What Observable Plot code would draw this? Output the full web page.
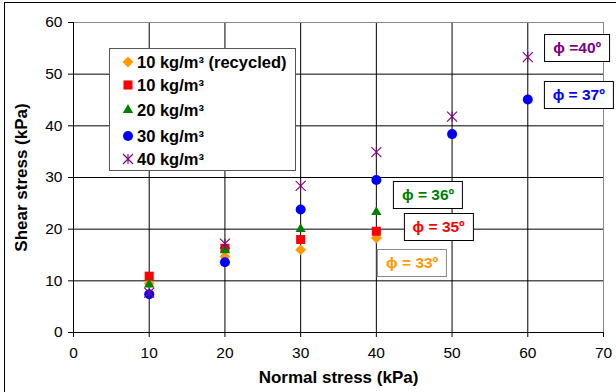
<!DOCTYPE html>
<html>
<head>
<meta charset="utf-8">
<script src="https://cdn.jsdelivr.net/npm/d3@7"></script>
<script src="https://cdn.jsdelivr.net/npm/@observablehq/plot@0.6"></script>
<style>
  body { margin: 0; background: #fff; font-family: "Liberation Sans", Arial, sans-serif; }
  #wrap { position: relative; width: 616px; height: 392px; overflow: hidden; }
  #outer { position: absolute; left: 4px; top: 2px; width: 700px; height: 500px; border: 1px solid #000; box-sizing: border-box; pointer-events: none; }
  svg [aria-label="x-axis label"] text, svg [aria-label="y-axis label"] text { font-weight: bold; font-size: 17px; }
  .legend { position: absolute; left: 109px; top: 48px; width: 187px; height: 123px; border: 1px solid #555; background: #fff; box-sizing: border-box; }
  .legend .row { position: absolute; left: 10px; height: 20px; display: flex; align-items: center; font-weight: bold; font-size: 16.5px; color: #000; white-space: nowrap; }
  .legend .row svg { margin-right: 1px; }
  .ann { position: absolute; transform: translate(-50%, -50%); background: #fff; border: 1px solid #000; font-weight: bold; font-size: 15.5px; padding: 4px 8px; white-space: nowrap; }
</style>
</head>
<body>
<div id="wrap"><div id="outer"></div></div>
<script>
// ---- data ----
const normalStress = [10, 20, 30, 40, 50, 60];
const seriesNames = ["10 kg/m³ (recycled)", "10 kg/m³", "20 kg/m³", "30 kg/m³", "40 kg/m³"];
const recycled10 = [9.5, 14.7, 16.0, 18.3];
const fiber10 = [10.9, 16.3, 18.0, 19.6];
const fiber20 = [9.3, 15.9, 20.0, 23.3];
const fiber30 = [7.4, 13.6, 23.8, 29.5, 38.4, 45.1];
const fiber40 = [7.7, 17.2, 28.4, 34.9, 41.8, 53.3];
const seriesColors = ["#FF9900", "#FF0000", "#008000", "#0000FF", "#800080"];
const xTicks = [0, 10, 20, 30, 40, 50, 60, 70];
const yTicks = [0, 10, 20, 30, 40, 50, 60];
// friction angle annotations (anchor in data coordinates)
const annLabels = ["ϕ =40º", "ϕ = 37º", "ϕ = 36º", "ϕ = 35º", "ϕ = 33º"];
const annColors = ["#800080", "#0000FF", "#008000", "#FF0000", "#FF9900"];
const annX = [66.6, 66.8, 46.9, 48.3, 44.8];
const annY = [55.0, 45.9, 26.5, 20.3, 13.3];

// ---- symbols ----
const starSymbol = {
  draw(ctx, size) {
    const r = Math.sqrt(size / Math.PI);
    ctx.moveTo(-r, -r); ctx.lineTo(r, r);
    ctx.moveTo(r, -r); ctx.lineTo(-r, r);
    ctx.moveTo(0, -r); ctx.lineTo(0, r);
  }
};
const symbols = ["diamond2", "square", "triangle", "circle", starSymbol];
const d3Symbols = [d3.symbolDiamond2, d3.symbolSquare, d3.symbolTriangle, d3.symbolCircle, starSymbol];
const symR = [4.9, 5.1, 3.8, 5, 5];

const allSeries = [recycled10, fiber10, fiber20, fiber30, fiber40];
const rows = allSeries.map((vals, s) => vals.map((v, i) => ({x: normalStress[i], y: v, s})));

const dotMarks = rows.map((data, s) => {
  const isStar = s === 4;
  return Plot.dot(data, {
    x: "x", y: "y", symbol: () => symbols[s], r: symR[s],
    fill: isStar ? "none" : seriesColors[s],
    stroke: isStar ? seriesColors[s] : "none",
    strokeWidth: 1.1
  });
});

const chart = Plot.plot({
  width: 616, height: 392,
  marginLeft: 73, marginRight: 13, marginTop: 22, marginBottom: 60,
  style: {fontFamily: "Liberation Sans, Arial, sans-serif", fontSize: "15.5px", color: "#000", background: "transparent"},
  x: {domain: [0, 70]},
  y: {domain: [0, 60]},
  symbol: {type: "identity"},
  marks: [
    Plot.gridX(xTicks.slice(1, -1), {stroke: "#000", strokeOpacity: 1, strokeWidth: 1}),
    Plot.gridY(yTicks.slice(1, -1), {stroke: "#000", strokeOpacity: 1, strokeWidth: 1}),
    Plot.frame({stroke: "#888"}),
    Plot.ruleX([0], {stroke: "#000"}),
    Plot.ruleY([0], {stroke: "#000"}),
    Plot.axisX(xTicks, {tickSize: 5, tickPadding: 9, label: "Normal stress (kPa)", labelAnchor: "center", labelArrow: "none", labelOffset: 50, fontSize: 15.5}),
    Plot.axisY(yTicks, {tickSize: 5, tickPadding: 6, label: "Shear stress (kPa)", labelAnchor: "center", labelArrow: "none", labelOffset: 59, fontSize: 15.5}),
    ...dotMarks
  ]
});
const wrap = document.getElementById("wrap");
wrap.insertBefore(chart, wrap.firstChild);

// ---- legend ----
const legend = document.createElement("div");
legend.className = "legend";
const rowTops = [3, 26, 51, 77, 100];
seriesNames.forEach((name, s) => {
  const row = document.createElement("div");
  row.className = "row";
  row.style.top = rowTops[s] + "px";
  const svg = d3.create("svg").attr("width", 16).attr("height", 16);
  const size = Math.PI * symR[s] * symR[s];
  const p = svg.append("path").attr("transform", "translate(8,8)").attr("d", d3.symbol(d3Symbols[s], size)());
  if (s === 4) p.attr("fill", "none").attr("stroke", seriesColors[s]).attr("stroke-width", 1.1);
  else p.attr("fill", seriesColors[s]);
  row.appendChild(svg.node());
  const t = document.createElement("span");
  t.textContent = name;
  row.appendChild(t);
  legend.appendChild(row);
});
wrap.appendChild(legend);

// ---- annotations ----
const sx = chart.scale("x"), sy = chart.scale("y");
annLabels.forEach((lab, i) => {
  const d = document.createElement("div");
  d.className = "ann";
  d.textContent = lab;
  d.style.color = annColors[i];
  d.style.left = sx.apply(annX[i]) + "px";
  d.style.top = sy.apply(annY[i]) + "px";
  if (i === 4) d.style.borderColor = "#888";
  wrap.appendChild(d);
});
</script>
</body>
</html>
